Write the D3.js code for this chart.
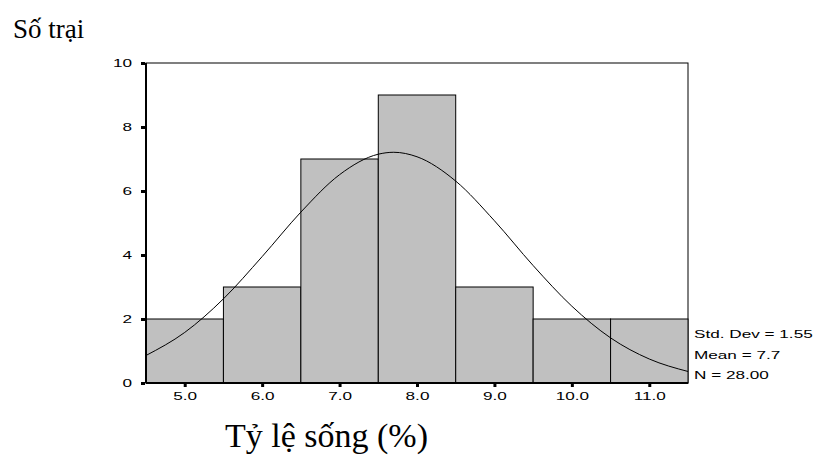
<!DOCTYPE html>
<html>
<head>
<meta charset="utf-8">
<script src="https://cdn.jsdelivr.net/npm/d3@7"></script>
<style>
  body { margin: 0; background: #fff; }
  svg { display: block; }
  .tick-label { font-family: "Liberation Sans", Arial, sans-serif; font-size: 11px; }
  .stat { font-family: "Liberation Sans", Arial, sans-serif; font-size: 11px; }
  .serif { font-family: "Liberation Serif", "Times New Roman", serif; }
</style>
</head>
<body>
<svg id="chart" width="820" height="473"></svg>
<script>
// bins (centres) and counts
const binCentres = [5, 6, 7, 8, 9, 10, 11];
const counts = [2, 3, 7, 9, 3, 2, 2];

// fitted normal curve
const curveX = [4.5, 5, 5.5, 6, 6.5, 7, 7.5, 7.7, 8, 8.5, 9, 9.5, 10, 10.5, 11, 11.5];
const curveY = [0.86, 1.58, 2.63, 3.95, 5.34, 6.51, 7.15, 7.21, 7.07, 6.31, 5.07, 3.67, 2.40, 1.41, 0.75, 0.36];

const xTicks = [5, 6, 7, 8, 9, 10, 11];
const yTicks = [0, 2, 4, 6, 8, 10];
const stats = ['Std. Dev = 1.55', 'Mean = 7.7', 'N = 28.00'];

const margin = {top: 63, right: 132, bottom: 90, left: 146};
const width = 820 - margin.left - margin.right;
const height = 473 - margin.top - margin.bottom;

// the sans labels in the original are drawn wide
const stretch = 1.56;

const svg = d3.select('#chart');
const chart = svg.append('g')
  .attr('transform', `translate(${margin.left}, ${margin.top})`);

const x = d3.scaleLinear().domain([4.5, 11.5]).range([0, width]);
const y = d3.scaleLinear().domain([0, 10]).range([height, 0]);

// frame
chart.append('rect')
  .attr('width', width).attr('height', height)
  .attr('fill', 'none').attr('stroke', '#000').attr('stroke-width', 1);

// bars
chart.selectAll('.bar')
  .data(binCentres)
  .enter().append('rect')
  .attr('class', 'bar')
  .attr('x', d => x(d - 0.5))
  .attr('width', d => x(d + 0.5) - x(d - 0.5))
  .attr('y', (d, i) => y(counts[i]))
  .attr('height', (d, i) => y(0) - y(counts[i]))
  .attr('fill', '#c0c0c0')
  .attr('stroke', '#000')
  .attr('stroke-width', 1);

// normal curve
const line = d3.line()
  .x((d, i) => x(curveX[i]))
  .y(d => y(d))
  .curve(d3.curveMonotoneX);

chart.append('path')
  .datum(curveY)
  .attr('d', line)
  .attr('fill', 'none')
  .attr('stroke', '#000')
  .attr('stroke-width', 1);

// thick left and bottom axis lines
chart.append('line').attr('x1', 0).attr('x2', 0).attr('y1', 0).attr('y2', height)
  .attr('stroke', '#000').attr('stroke-width', 2);
chart.append('line').attr('x1', 0).attr('x2', width).attr('y1', height).attr('y2', height)
  .attr('stroke', '#000').attr('stroke-width', 2);

// y axis
const yAxis = d3.axisLeft(y).tickValues(yTicks).tickSize(3).tickPadding(4);
const axisY = chart.append('g').attr('class', 'y axis').call(yAxis);
axisY.select('.domain').remove();
axisY.selectAll('line').attr('stroke-width', 3).attr('x2', -4).attr('transform', 'translate(-1,0)');
axisY.selectAll('text')
  .attr('class', 'tick-label').attr('fill', '#000')
  .attr('x', 0)
  .attr('transform', `translate(-14,0) scale(${stretch},1)`);

// x axis
const xAxis = d3.axisBottom(x).tickValues(xTicks).tickFormat(d3.format('.1f')).tickSize(3).tickPadding(5);
const axisX = chart.append('g').attr('class', 'x axis')
  .attr('transform', `translate(0, ${height + 1})`).call(xAxis);
axisX.select('.domain').remove();
axisX.selectAll('line').attr('stroke-width', 3);
axisX.selectAll('text')
  .attr('class', 'tick-label').attr('fill', '#000')
  .attr('transform', `scale(${stretch},1)`);

// stats legend
svg.selectAll('.stat')
  .data(stats)
  .enter().append('text')
  .attr('class', 'stat')
  .attr('transform', (d, i) => `translate(${margin.left + width + 6}, ${338 + i * 20.5}) scale(${stretch},1)`)
  .text(d => d);

// titles
svg.append('text')
  .attr('class', 'serif')
  .attr('x', 13).attr('y', 38)
  .attr('font-size', 27)
  .text('Số trại');

svg.append('text')
  .attr('class', 'serif')
  .attr('x', 225).attr('y', 447)
  .attr('font-size', 34)
  .text('Tỷ lệ sống (%)');
</script>
</body>
</html>
